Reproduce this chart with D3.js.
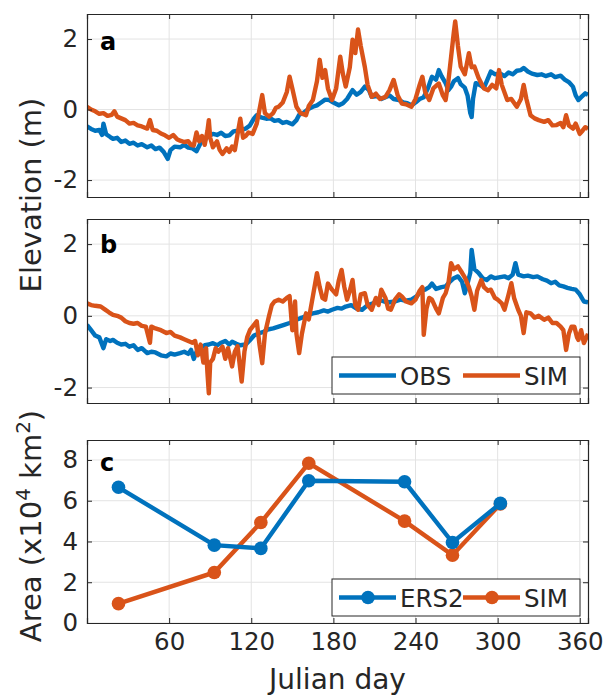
<!DOCTYPE html>
<html>
<head>
<meta charset="utf-8">
<script src="https://cdn.jsdelivr.net/npm/d3@7"></script>
<style>
  body { margin: 0; background: #fff; }
  svg { font-family: "DejaVu Sans", sans-serif; }
</style>
</head>
<body>
<div id="output"></div>
<script>
// Panel a: elevation (m) by Julian day
var obsA = [[0,-0.48],[3,-0.55],[6,-0.6],[9,-0.58],[11,-0.72],[12,-0.4],[14,-0.7],[17,-0.78],[19,-0.83],[22,-0.8],[25,-0.92],[28,-0.88],[31,-0.97],[34,-0.94],[37,-1.02],[40,-0.98],[44,-1.07],[47,-1.02],[50,-1.12],[53,-1.08],[56,-1.2],[59,-1.4],[61,-1.15],[64,-1.05],[68,-1.07],[71,-1.0],[74,-1.08],[77,-1.1],[80,-1.18],[83,-0.95],[86,-0.85],[89,-0.75],[92,-0.69],[95,-0.72],[98,-0.66],[101,-0.75],[104,-0.73],[107,-0.62],[110,-0.6],[113,-0.57],[116,-0.54],[119,-0.45],[122,-0.25],[124,-0.16],[127,-0.22],[131,-0.26],[134,-0.25],[137,-0.32],[140,-0.3],[143,-0.38],[146,-0.35],[150,-0.42],[153,-0.3],[155,-0.15],[158,-0.1],[162,0.02],[165,0.08],[168,0.12],[171,0.2],[174,0.28],[177,0.27],[180,0.2],[184,0.12],[187,0.18],[190,0.3],[194,0.55],[197,0.42],[200,0.5],[203,0.65],[206,0.55],[208,0.36],[212,0.38],[215,0.3],[218,0.35],[221,0.4],[224,0.3],[228,0.27],[231,0.2],[234,0.18],[237,0.12],[240,0.2],[243,0.3],[246,0.35],[249,0.6],[252,0.93],[255,0.85],[257,1.12],[259,0.95],[262,0.75],[264,0.55],[266,0.65],[268,0.8],[271,0.89],[273,0.72],[276,0.62],[278,0.4],[280,-0.1],[281,-0.21],[282,0.3],[284,0.75],[287,0.7],[290,0.62],[292,0.8],[295,1.08],[298,1.0],[302,1.02],[305,0.95],[308,1.05],[311,1.0],[314,1.1],[317,1.12],[319,1.18],[322,1.08],[325,1.02],[329,0.98],[332,1.0],[335,0.95],[339,1.0],[342,0.92],[346,0.96],[349,0.85],[352,0.78],[355,0.65],[357,0.4],[359,0.27],[361,0.35],[364,0.46],[366,0.42]];
var simA = [[0,0.08],[3,0.0],[6,-0.05],[9,-0.12],[12,-0.1],[15,-0.18],[18,-0.15],[20,-0.05],[22,-0.2],[25,-0.25],[28,-0.3],[31,-0.4],[34,-0.38],[37,-0.45],[40,-0.48],[44,-0.54],[46,-0.3],[48,-0.58],[51,-0.6],[54,-0.68],[57,-0.73],[60,-0.8],[63,-0.72],[66,-0.85],[68,-0.88],[71,-0.92],[74,-0.9],[76,-1.0],[78,-1.02],[80,-0.65],[82,-0.9],[84,-0.75],[86,-1.0],[88,-0.6],[89,-0.3],[90,-0.8],[92,-1.07],[95,-0.9],[97,-1.15],[99,-1.26],[102,-1.1],[104,-1.2],[106,-1.05],[108,-1.15],[110,-0.7],[112,-0.26],[114,-0.8],[116,-0.75],[118,-0.65],[121,-0.69],[124,-0.4],[126,0.0],[128,0.41],[130,-0.1],[133,-0.2],[136,-0.1],[138,0.05],[140,0.08],[143,0.2],[146,0.5],[148,0.93],[150,0.6],[153,0.08],[156,-0.1],[160,-0.16],[162,0.1],[165,0.27],[168,0.8],[170,1.41],[172,0.9],[174,1.12],[176,0.6],[179,0.27],[182,0.6],[185,1.5],[187,1.0],[189,0.65],[192,1.2],[194,1.98],[196,1.6],[198,2.27],[200,1.8],[203,1.2],[205,0.7],[208,0.36],[211,0.45],[214,0.3],[218,0.36],[221,0.55],[224,0.84],[227,0.4],[230,0.17],[233,0.15],[237,0.08],[240,0.3],[243,0.7],[245,0.93],[247,0.5],[250,0.27],[253,0.6],[257,0.74],[260,0.4],[262,0.27],[264,0.8],[266,1.5],[268,2.2],[269,2.5],[271,1.8],[273,1.22],[276,1.0],[279,1.6],[281,1.2],[283,1.22],[286,0.9],[290,0.6],[293,0.55],[296,0.7],[299,0.6],[301,1.12],[303,0.7],[307,0.27],[310,0.3],[314,0.08],[317,0.3],[319,0.7],[321,0.3],[324,-0.16],[327,-0.25],[330,-0.3],[334,-0.35],[337,-0.3],[340,-0.45],[343,-0.44],[346,-0.38],[348,-0.5],[350,-0.16],[352,-0.45],[355,-0.54],[357,-0.4],[360,-0.69],[362,-0.6],[364,-0.5],[366,-0.55]];

// Panel b
var obsB = [[0,-0.25],[3,-0.4],[6,-0.55],[9,-0.6],[12,-0.9],[14,-0.65],[17,-0.7],[19,-0.67],[22,-0.75],[25,-0.8],[28,-0.78],[31,-0.86],[34,-0.82],[37,-0.95],[40,-0.9],[44,-1.04],[47,-1.0],[50,-1.02],[54,-1.1],[58,-1.13],[61,-1.05],[64,-1.08],[68,-1.04],[71,-1.0],[74,-1.06],[76,-0.95],[78,-1.2],[80,-1.0],[83,-0.9],[86,-0.82],[89,-0.8],[92,-0.76],[95,-0.82],[98,-0.75],[101,-0.7],[104,-0.8],[106,-0.72],[109,-0.78],[112,-0.82],[116,-0.8],[119,-0.68],[122,-0.55],[126,-0.48],[129,-0.45],[132,-0.38],[136,-0.35],[140,-0.3],[144,-0.25],[148,-0.2],[153,-0.11],[157,-0.05],[161,0.02],[165,0.07],[169,0.1],[173,0.15],[176,0.12],[179,0.17],[183,0.22],[186,0.2],[189,0.26],[193,0.3],[197,0.2],[201,0.17],[205,0.3],[209,0.35],[213,0.45],[217,0.4],[221,0.38],[225,0.4],[229,0.45],[233,0.42],[237,0.45],[241,0.55],[244,0.7],[247,0.73],[250,0.8],[252,0.9],[255,0.75],[259,0.8],[262,0.82],[265,0.95],[268,1.05],[271,1.1],[274,0.95],[276,0.63],[278,0.9],[280,1.2],[281,1.84],[283,1.3],[286,1.2],[289,1.05],[292,1.0],[295,1.1],[298,1.05],[302,1.08],[305,1.1],[308,1.05],[311,1.15],[313,1.47],[315,1.15],[319,1.1],[322,1.12],[326,1.08],[329,1.1],[333,1.02],[336,0.98],[339,0.91],[342,0.95],[345,0.85],[348,0.82],[351,0.78],[354,0.75],[357,0.73],[360,0.6],[363,0.4],[366,0.38]];
var simB = [[0,0.35],[3,0.3],[6,0.28],[10,0.26],[13,0.18],[16,0.1],[19,0.03],[22,0.0],[25,-0.05],[28,-0.15],[31,-0.2],[34,-0.22],[37,-0.2],[40,-0.28],[43,-0.3],[46,-0.75],[47,-0.3],[50,-0.35],[54,-0.4],[58,-0.48],[61,-0.45],[64,-0.55],[68,-0.6],[71,-0.65],[74,-0.7],[77,-0.75],[79,-0.7],[81,-1.1],[83,-0.8],[85,-1.3],[87,-0.9],[88,-1.6],[89,-2.16],[90,-1.3],[92,-1.2],[94,-0.9],[96,-1.0],[99,-0.86],[101,-1.2],[103,-0.9],[106,-1.41],[108,-1.0],[110,-0.85],[112,-1.5],[113,-1.83],[115,-1.0],[117,-0.6],[119,-0.4],[121,-0.3],[124,-0.15],[126,-0.8],[128,-1.32],[130,-0.5],[133,0.0],[135,0.3],[137,0.4],[140,0.45],[143,0.4],[146,0.5],[148,0.55],[150,-0.4],[152,0.4],[153,-0.5],[155,-1.04],[157,-0.5],[160,0.07],[162,-0.1],[165,0.54],[168,1.19],[170,0.8],[172,0.5],[174,0.45],[176,0.9],[179,0.73],[182,0.6],[184,1.0],[186,1.28],[188,0.8],[190,0.45],[192,0.7],[194,1.0],[196,0.3],[198,0.17],[200,0.6],[203,0.63],[205,0.3],[208,0.17],[211,0.5],[213,0.3],[215,0.73],[218,0.5],[220,0.2],[222,0.17],[225,0.45],[228,0.6],[230,0.54],[233,0.4],[237,0.35],[240,0.45],[243,0.7],[245,0.8],[246,-0.53],[248,0.2],[250,0.5],[252,0.45],[255,0.2],[257,0.07],[260,0.5],[262,0.63],[264,0.9],[266,1.47],[268,1.3],[271,1.38],[274,1.2],[276,1.07],[279,0.8],[281,0.54],[283,0.17],[285,0.7],[288,1.0],[290,0.8],[293,0.7],[295,0.73],[298,0.5],[300,0.45],[303,0.35],[305,0.17],[308,0.6],[310,0.91],[312,0.5],[315,0.17],[317,0.0],[319,-0.48],[321,0.1],[324,0.07],[327,-0.05],[330,0.0],[334,-0.11],[337,-0.05],[340,-0.2],[343,-0.2],[346,-0.3],[348,-0.4],[350,-0.95],[352,-0.5],[354,-0.3],[356,-0.3],[358,-0.6],[359,-0.67],[361,-0.4],[363,-0.76],[366,-0.5]];

// Panel c: inundated area (x10^4 km^2)
var areaDays = [23, 93, 127, 162, 232, 267, 302];
var areaERS2 = [6.66, 3.82, 3.66, 6.98, 6.93, 3.95, 5.87];
var areaSIM = [0.95, 2.48, 4.93, 7.84, 5.0, 3.33, 5.84];

var xTicks = [60, 120, 180, 240, 300, 360];
var elevTicks = [-2, 0, 2];
var areaTicks = [0, 2, 4, 6, 8];

var width = 603, height = 699;
var left = 87, right = 588;
var blue = '#0072BD', orange = '#D95319', ink = '#262626';
var lw = 4.4;

var svg = d3.select('#output').append('svg')
  .attr('width', width)
  .attr('height', height);

var x = d3.scaleLinear().domain([0, 366]).range([left, right]);
var fmt = d => String(d); // plain hyphen minus, as in the figure

function panel(id, top, bottom, yDomain, yTicks, letter, letterY, showX){
  var y = d3.scaleLinear().domain(yDomain).range([bottom, top]);
  var g = svg.append('g');

  g.append('rect')
    .attr('x', left).attr('y', top)
    .attr('width', right - left).attr('height', bottom - top)
    .attr('fill', '#fff');

  // grid
  g.selectAll('.gx').data(xTicks).enter().append('line')
    .attr('x1', d => x(d)).attr('x2', d => x(d))
    .attr('y1', top).attr('y2', bottom)
    .attr('stroke', '#e3e3e3').attr('stroke-width', 1);
  g.selectAll('.gy').data(yTicks).enter().append('line')
    .attr('x1', left).attr('x2', right)
    .attr('y1', d => y(d)).attr('y2', d => y(d))
    .attr('stroke', '#e3e3e3').attr('stroke-width', 1);

  g.append('clipPath').attr('id', 'clip-' + id)
    .append('rect')
    .attr('x', left).attr('y', top)
    .attr('width', right - left).attr('height', bottom - top);

  // axes with inward ticks on all four sides
  var axL = g.append('g').attr('transform', `translate(${left},0)`)
    .call(d3.axisLeft(y).tickValues(yTicks).tickSize(-5).tickPadding(9).tickFormat(fmt));
  var axR = g.append('g').attr('transform', `translate(${right},0)`)
    .call(d3.axisRight(y).tickValues(yTicks).tickSize(-5).tickFormat(''));
  var axT = g.append('g').attr('transform', `translate(0,${top})`)
    .call(d3.axisTop(x).tickValues(xTicks).tickSize(-5).tickFormat(''));
  var axB = g.append('g').attr('transform', `translate(0,${bottom})`)
    .call(d3.axisBottom(x).tickValues(xTicks).tickSize(-5).tickPadding(10)
      .tickFormat(showX ? fmt : ''));
  [axL, axR, axT, axB].forEach(function(a){
    a.selectAll('path').attr('stroke', ink).attr('stroke-width', 1.2);
    a.selectAll('line').attr('stroke', ink);
    a.selectAll('text').attr('fill', ink).attr('font-size', 24.5)
      .attr('font-family', '"DejaVu Sans", sans-serif');
  });

  g.append('text')
    .attr('x', left + 13).attr('y', letterY)
    .attr('font-size', 24).attr('font-weight', 'bold')
    .attr('fill', '#000')
    .text(letter);

  return {g: g, y: y};
}

function series(p, id, pts, color){
  var line = d3.line().x(d => x(d[0])).y(d => p.y(d[1]));
  p.g.insert('path', 'g')
    .datum(pts)
    .attr('clip-path', 'url(#clip-' + id + ')')
    .attr('fill', 'none')
    .attr('stroke', color)
    .attr('stroke-width', lw)
    .attr('stroke-linejoin', 'round')
    .attr('d', line);
}

var pa = panel('a', 14, 197, [-2.48, 2.71], elevTicks, 'a', 50, false);
series(pa, 'a', obsA, blue);
series(pa, 'a', simA, orange);

var pb = panel('b', 219, 403, [-2.43, 2.7], elevTicks, 'b', 253, false);
series(pb, 'b', obsB, blue);
series(pb, 'b', simB, orange);

var pc = panel('c', 440, 623, [0, 8.98], areaTicks, 'c', 471, true);
[[areaERS2, blue], [areaSIM, orange]].forEach(function(s){
  var pts = areaDays.map((d, i) => [d, s[0][i]]);
  var line = d3.line().x(d => x(d[0])).y(d => pc.y(d[1]));
  var sg = pc.g.insert('g', 'g');
  sg.append('path').datum(pts)
    .attr('fill', 'none').attr('stroke', s[1])
    .attr('stroke-width', lw).attr('d', line);
  sg.selectAll('circle').data(pts).enter().append('circle')
    .attr('cx', d => x(d[0])).attr('cy', d => pc.y(d[1]))
    .attr('r', 6.8).attr('fill', s[1]);
});

// Legends
function legend(top, bottom, items, markers){
  var lg = svg.append('g');
  lg.append('rect')
    .attr('x', 332).attr('y', top)
    .attr('width', 248).attr('height', bottom - top)
    .attr('fill', '#fff').attr('stroke', ink).attr('stroke-width', 1);
  var cy = (top + bottom) / 2;
  items.forEach(function(it, i){
    var x0 = i === 0 ? 339 : 463;
    lg.append('line')
      .attr('x1', x0).attr('x2', x0 + 57)
      .attr('y1', cy).attr('y2', cy)
      .attr('stroke', it[1]).attr('stroke-width', lw);
    if (markers) {
      lg.append('circle').attr('cx', x0 + 29).attr('cy', cy)
        .attr('r', 6.8).attr('fill', it[1]);
    }
    lg.append('text')
      .attr('x', x0 + 61).attr('y', cy + 9)
      .attr('font-size', 24.5).attr('fill', ink)
      .text(it[0]);
  });
}
legend(357, 394, [['OBS', blue], ['SIM', orange]], false);
legend(579, 616, [['ERS2', blue], ['SIM', orange]], true);

// Axis labels
svg.append('text')
  .attr('transform', 'translate(41,195) rotate(-90)')
  .attr('text-anchor', 'middle')
  .attr('font-size', 29).attr('fill', ink)
  .text('Elevation (m)');

var al = svg.append('text')
  .attr('transform', 'translate(41,526) rotate(-90)')
  .attr('text-anchor', 'middle')
  .attr('font-size', 29).attr('fill', ink);
al.append('tspan').text('Area (x10');
al.append('tspan').attr('dy', -11).attr('font-size', 20).text('4');
al.append('tspan').attr('dy', 11).text(' km');
al.append('tspan').attr('dy', -11).attr('font-size', 20).text('2');
al.append('tspan').attr('dy', 11).text(')');

svg.append('text')
  .attr('x', (left + right) / 2).attr('y', 689)
  .attr('text-anchor', 'middle')
  .attr('font-size', 28).attr('fill', ink)
  .text('Julian day');
</script>
</body>
</html>
